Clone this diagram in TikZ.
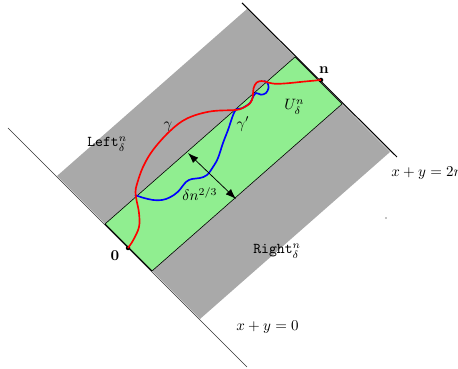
\documentclass[tikz,border=0pt]{standalone}
\usetikzlibrary{arrows.meta}
\definecolor{bandgray}{RGB}{169,169,169}
\definecolor{bandgreen}{RGB}{144,238,144}
\begin{document}
\begin{tikzpicture}[x=0.6667pt,y=-0.6667pt,
  dotnode/.style={circle,fill=black,inner sep=0pt,minimum size=3pt},
  lbl/.style={inner sep=0pt},
  bound/.style={line width=0.7pt,black},
  thinbound/.style={line width=0.45pt,black!80},
  pathred/.style={red,line width=1.1pt},
  pathblue/.style={blue,line width=1.1pt},
  dist/.style={{Latex[length=7pt,width=5pt]}-{Latex[length=7pt,width=5pt]},line width=0.5pt}]
\clip (0,0) rectangle (458,369);
% gray band
\fill[bandgray] (57,176) -- (247,9) -- (390,152) -- (200,319) -- cycle;
% green band
\filldraw[fill=bandgreen,draw=black,line width=0.4pt] (105,224) -- (295,57) -- (342,104) -- (152,271) -- cycle;
% boundary lines
\coordinate (a1) at (8,128);
\coordinate (a2) at (247,367);
\coordinate (b1) at (242,3);
\coordinate (b2) at (397,157);
\coordinate (g1) at (105,224);
\coordinate (g2) at (152,271);
\draw[thinbound] (a1) -- (a2);
\draw[bound] (g1) -- (g2);
\draw[bound] (b1) -- (b2);
% blue path gamma'
\draw[pathblue] plot[smooth,tension=0.6] coordinates {(135,195) (143,197.7) (153,200) (162,200) (170,197.3) (178,191.7) (186,182) (192,179) (200,178) (207,175) (213,167) (218,158) (223,143) (228,130) (235,111) (242,108.3) (250,103) (253,97) (256,93) (261,94.7) (266,93) (268.5,88) (267.5,83) (264,81)};
% red path gamma
\node[dotnode] (o) at (128,248) {};
\node[dotnode] (n) at (321,80) {};
\draw[pathred] plot[smooth,tension=0.6] coordinates {(128,248) (133.3,240) (139,227) (139,213) (136.5,200) (135.5,192) (137,184) (143,167) (153,150) (170,131) (187,118.5) (210,111.5) (235,110) (242,108.3) (250,103.3) (252.7,97) (253.5,88.5) (256.5,82.7) (261.7,81) (268.3,82.5) (275,83.8) (287,83.3) (303,81.7) (321,80)};
% distance arrow
\coordinate (d1) at (188,153);
\coordinate (d2) at (236,199);
\draw[dist] (d1) -- (d2);
% small dot
\fill (386,218) circle (0.6);
% labels
\node[lbl,anchor=base west] (left) at (87,147) {$\mathtt{Left}_\delta^n$};
\node[lbl,anchor=base west] (right) at (253,254) {$\mathtt{Right}_\delta^n$};
\node[lbl] (gam) at (168,127) {$\gamma$};
\node[lbl] (gamp) at (243,124) {$\gamma'$};
\node[lbl,anchor=base west] (U) at (284,110) {$U_\delta^n$};
\node[lbl] (nl) at (324,70) {$\mathbf{n}$};
\node[lbl] (ol) at (115,255.5) {$\mathbf{0}$};
\node[lbl,anchor=base west] (del) at (182,201) {$\delta n^{2/3}$};
\node[lbl,anchor=base west] (l0) at (236,331) {$x+y=0$};
\node[lbl,anchor=base west] (l2) at (391,177) {$x+y=2n$};
\end{tikzpicture}
\end{document}
